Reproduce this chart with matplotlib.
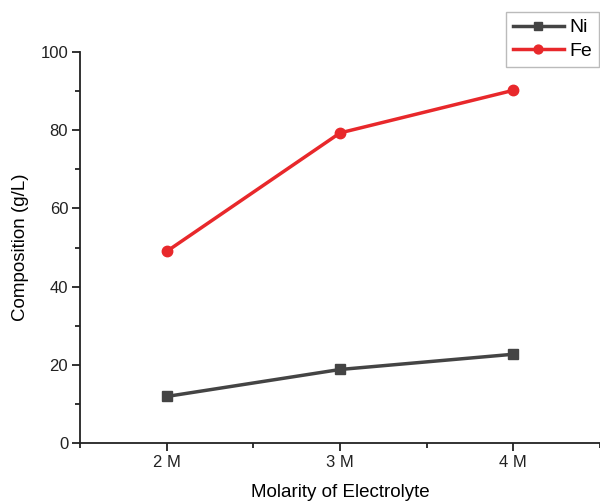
import matplotlib
matplotlib.use("Agg")
import matplotlib.pyplot as plt
from matplotlib.ticker import MultipleLocator

plt.rcParams['font.family'] = ['Liberation Sans', 'DejaVu Sans']

categories = ["2 M", "3 M", "4 M"]
x_pos = [2, 3, 4]
ni = [11.9, 18.8, 22.7]
fe = [49.0, 79.3, 90.2]

fig = plt.figure(figsize=(6, 5.04), dpi=100)
ax = fig.add_axes([80/600, 61/504, 1 - 80/600, (443-52)/504])

ax.plot(x_pos, ni, color='#444444', marker='s', markersize=6.5, linewidth=2.5, label='Ni')
ax.plot(x_pos, fe, color='#e8282b', marker='o', markersize=7.5, linewidth=2.5, label='Fe')

ax.set_xlim(1.5, 4.5)
ax.set_ylim(0, 100)
ax.set_xticks(x_pos)
ax.set_xticklabels(categories)
ax.xaxis.set_minor_locator(MultipleLocator(0.5))
ax.yaxis.set_major_locator(MultipleLocator(20))
ax.yaxis.set_minor_locator(MultipleLocator(10))
for s in ['top', 'right']:
    ax.spines[s].set_visible(False)
for s in ['left', 'bottom']:
    ax.spines[s].set_linewidth(1.3)
    ax.spines[s].set_color('#222222')
ax.tick_params(which='major', direction='out', length=5.5, width=1.3, labelsize=12, colors='#222222', pad=3)
ax.tick_params(which='minor', direction='out', length=3.5, width=1.3, colors='#222222')
ax.set_xlabel('Molarity of Electrolyte', fontsize=13.5, labelpad=10)
ax.set_ylabel('Composition (g/L)', fontsize=13.5, labelpad=8)

leg = fig.legend(loc='upper right', bbox_to_anchor=(599/600, 1 - 12/504), fontsize=14,
                 frameon=True, fancybox=False, handlelength=2.6, borderpad=0.35,
                 labelspacing=0.3, handletextpad=0.3, borderaxespad=0, markerscale=0.85)
leg.get_frame().set_edgecolor('#aaaaaa')
leg.get_frame().set_linewidth(1.0)

fig.savefig('out.png', dpi=100)
